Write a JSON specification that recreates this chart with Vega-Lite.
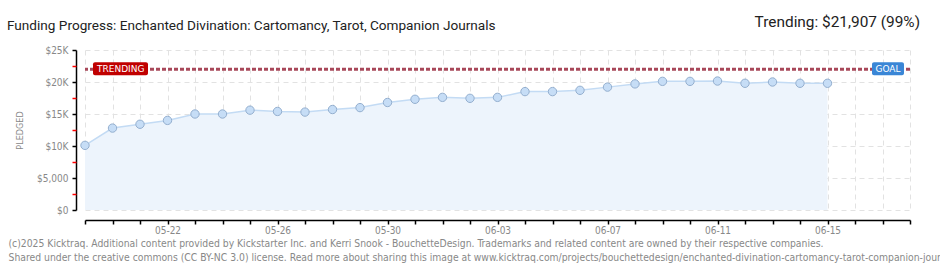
{
  "$schema": "https://vega.github.io/schema/vega-lite/v6.json",
  "autosize": {"type": "none"},
  "width": 825,
  "height": 160,
  "padding": {"left": 85, "top": 50, "right": 30, "bottom": 60},
  "background": "white",
  "config": {
    "view": {"stroke": null},
    "font": "DejaVu Sans Condensed"
  },
  "title": {
    "text": "Funding Progress: Enchanted Divination: Cartomancy, Tarot, Companion Journals",
    "anchor": "start",
    "dx": -1,
    "offset": -18,
    "fontSize": 13.6,
    "fontWeight": "normal",
    "color": "#222222",
    "font": "Roboto"
  },
  "data": {
    "values": [
      {"date": "2025-05-19", "pledged": 10100},
      {"date": "2025-05-20", "pledged": 12800},
      {"date": "2025-05-21", "pledged": 13400},
      {"date": "2025-05-22", "pledged": 14000},
      {"date": "2025-05-23", "pledged": 15000},
      {"date": "2025-05-24", "pledged": 15000},
      {"date": "2025-05-25", "pledged": 15600},
      {"date": "2025-05-26", "pledged": 15400},
      {"date": "2025-05-27", "pledged": 15300},
      {"date": "2025-05-28", "pledged": 15700},
      {"date": "2025-05-29", "pledged": 16000},
      {"date": "2025-05-30", "pledged": 16800},
      {"date": "2025-05-31", "pledged": 17300},
      {"date": "2025-06-01", "pledged": 17600},
      {"date": "2025-06-02", "pledged": 17450},
      {"date": "2025-06-03", "pledged": 17600},
      {"date": "2025-06-04", "pledged": 18500},
      {"date": "2025-06-05", "pledged": 18500},
      {"date": "2025-06-06", "pledged": 18700},
      {"date": "2025-06-07", "pledged": 19200},
      {"date": "2025-06-08", "pledged": 19700},
      {"date": "2025-06-09", "pledged": 20100},
      {"date": "2025-06-10", "pledged": 20100},
      {"date": "2025-06-11", "pledged": 20150},
      {"date": "2025-06-12", "pledged": 19800},
      {"date": "2025-06-13", "pledged": 20000},
      {"date": "2025-06-14", "pledged": 19800},
      {"date": "2025-06-15", "pledged": 19800}
    ]
  },
  "resolve": {"axis": {"y": "independent"}},
  "layer": [
    {
      "mark": {"type": "area", "color": "#edf4fc", "opacity": 1},
      "encoding": {
        "x": {
          "field": "date", "type": "temporal",
          "scale": {"type": "utc", "domain": [{"year": 2025, "month": 5, "date": 19, "utc": true}, {"year": 2025, "month": 6, "date": 18, "utc": true}]},
          "axis": {
            "orient": "bottom",
            "offset": 10,
            "tickCount": {"interval": "day", "step": 1},
            "labelExpr": "(round((datum.value - utc(2025,4,22)) / 86400000) % 4 === 0) ? utcFormat(datum.value, '%m-%d') : ''",
            "labelOverlap": false,
            "labelBound": false,
            "labelFlush": false,
            "labelColor": "#888888",
            "labelFontSize": 10,
            "labelPadding": 1,
            "domainColor": "#000000",
            "domainWidth": 1.5,
            "tickColor": "#000000",
            "tickSize": 4,
            "tickWidth": 1.5,
            "grid": true,
            "gridColor": "#e2e2e2",
            "gridDash": [5, 4],
            "title": [
              "(c)2025 Kicktraq. Additional content provided by Kickstarter Inc. and Kerri Snook - BouchetteDesign. Trademarks and related content are owned by their respective companies.",
              "Shared under the creative commons (CC BY-NC 3.0) license. Read more about sharing this image at www.kicktraq.com/projects/bouchettedesign/enchanted-divination-cartomancy-tarot-companion-journals/"
            ],
            "titleX": -77,
            "titleY": 23,
            "titleAlign": "left",
            "titleAnchor": "start",
            "titleBaseline": "middle",
            "titleFontSize": 10.3,
            "titleFontWeight": "normal",
            "titleColor": "#888888",
            "titleLineHeight": 14
          }
        },
        "y": {
          "field": "pledged", "type": "quantitative",
          "scale": {"domain": [0, 25000], "nice": false},
          "axis": {
            "orient": "left",
            "offset": 9,
            "values": [0, 5000, 10000, 15000, 20000, 25000],
            "labelExpr": "datum.value >= 10000 ? '$' + (datum.value / 1000) + 'K' : '$' + format(datum.value, ',')",
            "labelColor": "#888888",
            "labelFontSize": 10,
            "labelPadding": 4,
            "domainColor": "#000000",
            "domainWidth": 1.5,
            "tickColor": "#000000",
            "tickSize": 4,
            "tickWidth": 1.5,
            "grid": true,
            "gridColor": "#e2e2e2",
            "gridDash": [5, 4],
            "title": "PLEDGED",
            "titleColor": "#888888",
            "titleFontSize": 9,
            "titleFontWeight": "normal",
            "titlePadding": 12
          }
        }
      }
    },
    {
      "mark": {"type": "line", "color": "#c3dbf4", "strokeWidth": 1.5},
      "encoding": {
        "x": {"field": "date", "type": "temporal"},
        "y": {"field": "pledged", "type": "quantitative", "axis": {
            "orient": "left",
            "offset": 9,
            "values": [2500, 7500, 12500, 17500, 22500],
            "labels": false,
            "domain": false,
            "grid": false,
            "tickColor": "#ff0000",
            "tickSize": 4,
            "tickWidth": 1.5,
            "title": null
          }}
      }
    },
    {
      "mark": {"type": "point", "filled": true, "fill": "#c6ddf6", "stroke": "#94afcf", "strokeWidth": 1, "size": 70, "opacity": 1},
      "encoding": {
        "x": {"field": "date", "type": "temporal"},
        "y": {"field": "pledged", "type": "quantitative", "axis": null}
      }
    },
    {
      "data": {"values": [{"goal": 22000}]},
      "mark": {"type": "rule", "color": "#a8485a", "strokeWidth": 3, "strokeDash": [4, 2]},
      "encoding": {"y": {"field": "goal", "type": "quantitative", "axis": null}}
    },
    {
      "data": {"values": [{"goal": 22000}]},
      "mark": {"type": "rect", "color": "#c00000", "cornerRadius": 2, "xOffset": 8, "x2Offset": 63, "yOffset": -7, "y2Offset": 6},
      "encoding": {
        "x": {"datum": {"year": 2025, "month": 5, "date": 19, "utc": true}, "type": "temporal"},
        "x2": {"datum": {"year": 2025, "month": 5, "date": 19, "utc": true}},
        "y": {"field": "goal", "type": "quantitative", "axis": null},
        "y2": {"field": "goal"}
      }
    },
    {
      "data": {"values": [{"goal": 22000, "label": "TRENDING"}]},
      "mark": {"type": "text", "color": "white", "fontSize": 9, "align": "left", "baseline": "middle", "dx": 12, "font": "DejaVu Sans"},
      "encoding": {
        "x": {"datum": {"year": 2025, "month": 5, "date": 19, "utc": true}, "type": "temporal"},
        "y": {"field": "goal", "type": "quantitative", "axis": null},
        "text": {"field": "label"}
      }
    },
    {
      "data": {"values": [{"goal": 22000}]},
      "mark": {"type": "rect", "color": "#3a86d6", "cornerRadius": 2, "xOffset": -38, "x2Offset": -6, "yOffset": -7, "y2Offset": 6},
      "encoding": {
        "x": {"datum": {"year": 2025, "month": 6, "date": 18, "utc": true}, "type": "temporal"},
        "x2": {"datum": {"year": 2025, "month": 6, "date": 18, "utc": true}},
        "y": {"field": "goal", "type": "quantitative", "axis": null},
        "y2": {"field": "goal"}
      }
    },
    {
      "data": {"values": [{"goal": 22000, "label": "GOAL"}]},
      "mark": {"type": "text", "color": "white", "fontSize": 9, "align": "center", "baseline": "middle", "dx": -22, "font": "DejaVu Sans"},
      "encoding": {
        "x": {"datum": {"year": 2025, "month": 6, "date": 18, "utc": true}, "type": "temporal"},
        "y": {"field": "goal", "type": "quantitative", "axis": null},
        "text": {"field": "label"}
      }
    },
    {
      "data": {"values": [{"label": "Trending:  $21,907 (99%)"}]},
      "mark": {"type": "text", "color": "#222222", "fontSize": 15.4, "align": "right", "baseline": "middle", "dx": 10, "dy": -28, "font": "Roboto"},
      "encoding": {
        "x": {"datum": {"year": 2025, "month": 6, "date": 18, "utc": true}, "type": "temporal"},
        "y": {"datum": 25000, "type": "quantitative", "axis": null},
        "text": {"field": "label"}
      }
    }
  ]
}
